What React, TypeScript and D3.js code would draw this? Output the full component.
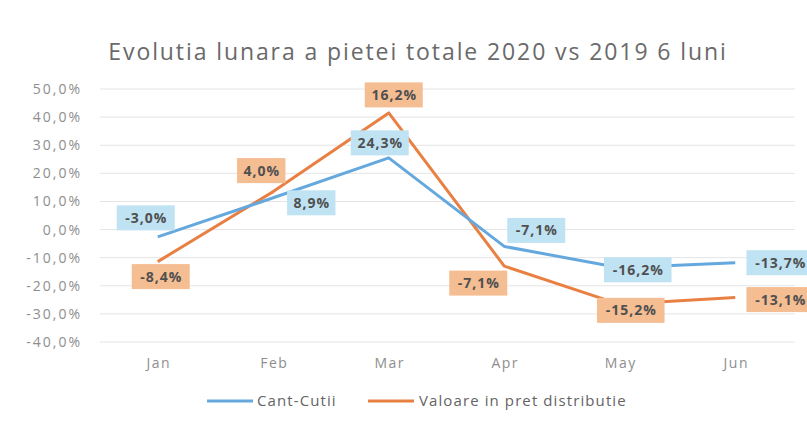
import React from 'react';
import * as d3 from 'd3';

// chart data
const months = ['Jan', 'Feb', 'Mar', 'Apr', 'May', 'Jun'];
const cantCutii = [-2.6, 11.3, 25.5, -6.0, -13.6, -11.8];
const valoare = [-11.4, 13.5, 41.5, -13.0, -26.6, -24.2];
// the printed data labels (they do not match the plotted points in the original)
const cantLabels = ['-3,0%', '8,9%', '24,3%', '-7,1%', '-16,2%', '-13,7%'];
const valoareLabels = ['-8,4%', '4,0%', '16,2%', '-7,1%', '-15,2%', '-13,1%'];
const yTicks = [50, 40, 30, 20, 10, 0, -10, -20, -30, -40];

// label box offsets from the data point (layout only)
const cantOffsets = [[-12, -19], [38, 5], [-9, -15], [32, -16], [18, 2], [45, 0]];
const valoareOffsets = [[3, 15], [-12, -21], [5, -18], [-26, 17], [11, 6], [45, 2]];

const BLUE = '#64a8dd';
const ORANGE = '#e98043';
const FONT = '"Open Sans", Lato, sans-serif';

const fmt = (v: number) => v.toFixed(1).replace('.', ',') + '%';

export default function App() {
  const width = 807;
  const height = 421;
  const margin = { left: 100, right: 14, top: 89, bottom: 79 };

  const x = d3.scaleBand()
    .domain(months)
    .range([margin.left, width - margin.right])
    .padding(0);
  const y = d3.scaleLinear()
    .domain([-40, 50])
    .range([height - margin.bottom, margin.top]);

  const cx = (m: string) => (x(m) as number) + x.bandwidth() / 2;

  const line = d3.line<number>()
    .x((_, i) => cx(months[i]))
    .y(d => y(d));

  const labelBox = (text: string, px: number, py: number, fill: string, key: string) => {
    const w = text.length * 9.6 + 10;
    const h = 25;
    return (
      <g key={key}>
        <rect x={px - w / 2} y={py - h / 2} width={w} height={h} fill={fill} />
        <text x={px + 0.5} y={py + 5} textAnchor="middle" fontSize={14} fontWeight="bold"
          letterSpacing={1} fill="#505050" fontFamily={FONT}>{text}</text>
      </g>
    );
  };

  return (
    <svg width={width} height={height} style={{ position: 'absolute', left: 0, top: 0, background: '#fff' }}>
      <rect width={width} height={height} fill="#fff" />
      <text x={418} y={60} textAnchor="middle" fontSize={23} letterSpacing={1.9} fill="#6a6a6a" fontFamily={FONT}>
        Evolutia lunara a pietei totale 2020 vs 2019 6 luni
      </text>

      {yTicks.map(t => (
        <g key={t}>
          <line x1={margin.left} x2={width - margin.right + 2} y1={y(t)} y2={y(t)}
            stroke="#e4e4e4" strokeWidth={1} />
          <text x={82} y={y(t) + 5} textAnchor="end" fontSize={14} letterSpacing={2} fill="#8e8e8e" fontFamily={FONT}>
            {fmt(t)}
          </text>
        </g>
      ))}

      {months.map(m => (
        <text key={m} x={cx(m) + 1} y={368} textAnchor="middle" fontSize={14} letterSpacing={1.5} fill="#8e8e8e" fontFamily={FONT}>
          {m}
        </text>
      ))}

      <path d={line(valoare) || ''} fill="none" stroke={ORANGE} strokeWidth={3} strokeLinejoin="round" />
      <path d={line(cantCutii) || ''} fill="none" stroke={BLUE} strokeWidth={3} strokeLinejoin="round" />

      {cantCutii.map((v, i) =>
        labelBox(cantLabels[i], cx(months[i]) + cantOffsets[i][0], y(v) + cantOffsets[i][1], '#bfe3f3', 'c' + i))}
      {valoare.map((v, i) =>
        labelBox(valoareLabels[i], cx(months[i]) + valoareOffsets[i][0], y(v) + valoareOffsets[i][1], '#f5bd92', 'v' + i))}

      <g fontFamily={FONT} fontSize={15} fill="#646464" letterSpacing={1.1}>
        <line x1={207} x2={253} y1={401} y2={401} stroke={BLUE} strokeWidth={3} />
        <text x={257} y={406}>Cant-Cutii</text>
        <line x1={368} x2={414} y1={401} y2={401} stroke={ORANGE} strokeWidth={3} />
        <text x={419} y={406}>Valoare in pret distributie</text>
      </g>
    </svg>
  );
}
